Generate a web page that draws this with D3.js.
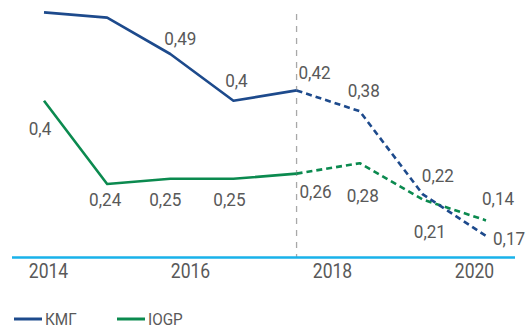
<!DOCTYPE html>
<html>
<head>
<meta charset="utf-8">
<script src="https://cdn.jsdelivr.net/npm/d3@7"></script>
<style>
  html, body { margin: 0; padding: 0; background: #fff; }
  svg { display: block; }
  text { font-family: Roboto, "Open Sans", sans-serif; fill: #595959; }
</style>
</head>
<body>
<svg id="chart" width="526" height="329"></svg>
<script>
// Periods along the line (the last three are projections)
const periods = ["2013", "2014", "2015", "2016", "2017", "2018", "2019", "2020"];
const kmgValues = [0.57, 0.56, 0.49, 0.40, 0.42, 0.38, 0.22, 0.14];
const iogpValues = [0.40, 0.24, 0.25, 0.25, 0.26, 0.28, 0.21, 0.17];
// Which points carry a value label
const kmgLabelled = [false, false, true, true, true, true, true, true];
const iogpLabelled = [true, true, true, true, true, true, true, true];
// Index where the actual figures end and the forecast begins
const forecastFrom = 4;
const axisYears = [2014, 2016, 2018, 2020];
const seriesNames = ["КМГ", "IOGP"];

// Label placement relative to each point: [dx, dy] (centre, baseline)
const kmgLabelOffsets = [[0, 0], [0, 0], [10, -9], [3, -14], [18, -11], [4, -14], [15, -12], [12, -31]];
const iogpLabelOffsets = [[-4, 34], [-2, 22], [-5, 27], [-4, 27], [19, 24], [3, 39], [7, 38], [23, 25]];

const colors = { kmg: "#1d4a8c", iogp: "#0b8a4f", axis: "#19b2ea", divider: "#a8a8a8" };

const svg = d3.select("#chart");

const x = d3.scalePoint().domain(periods).range([44, 486]);
const y = d3.scaleLinear().domain([0, 0.6]).range([308.8, -3.2]);
const yearScale = d3.scaleLinear().domain([2014, 2020]).range([48, 474]);

const axisY = 257.5;

// Forecast divider
svg.append("line")
  .attr("x1", x(periods[forecastFrom])).attr("x2", x(periods[forecastFrom]))
  .attr("y1", 14).attr("y2", axisY)
  .attr("stroke", colors.divider).attr("stroke-width", 1.3)
  .attr("stroke-dasharray", "6,6");

// Baseline
svg.append("line")
  .attr("x1", 12).attr("x2", 515)
  .attr("y1", axisY).attr("y2", axisY)
  .attr("stroke", colors.axis).attr("stroke-width", 2.5);

// Year labels
const axis = d3.axisBottom(yearScale).tickValues(axisYears).tickFormat(d3.format("d")).tickSize(0).tickPadding(0);
const axisG = svg.append("g").attr("transform", `translate(0,${axisY})`).call(axis);
axisG.select(".domain").remove();
axisG.selectAll(".tick text")
  .attr("dy", null).attr("y", 21).attr("x", 0)
  .attr("transform", "scale(0.9,1)")
  .style("font-size", "19.5px").style("fill", "#595959")
  .style("font-family", "Roboto, sans-serif");

const line = d3.line().x(d => x(d.p)).y(d => y(d.v));

function drawSeries(values, color, labelled, offsets) {
  const pts = values.map((v, i) => ({ p: periods[i], v, i }));
  svg.append("path")
    .datum(pts.slice(0, forecastFrom + 1))
    .attr("d", line).attr("fill", "none")
    .attr("stroke", color).attr("stroke-width", 2.6)
    .attr("stroke-linejoin", "round");
  svg.append("path")
    .datum(pts.slice(forecastFrom))
    .attr("d", line).attr("fill", "none")
    .attr("stroke", color).attr("stroke-width", 2.6)
    .attr("stroke-dasharray", "6,4")
    .attr("stroke-linejoin", "round");
  svg.append("g").selectAll("text")
    .data(pts.filter(d => labelled[d.i]))
    .join("text")
    .attr("transform", d => `translate(${x(d.p) + offsets[d.i][0]},${y(d.v) + offsets[d.i][1]}) scale(0.9,1)`)
    .attr("text-anchor", "middle")
    .style("font-size", "19px")
    .text(d => d3.format(".2~f")(d.v).replace(".", ","));
}

drawSeries(iogpValues, colors.iogp, iogpLabelled, iogpLabelOffsets);
drawSeries(kmgValues, colors.kmg, kmgLabelled, kmgLabelOffsets);

// Legend
const legend = svg.append("g").attr("transform", "translate(14,319)");
const legendItems = [
  { name: seriesNames[0], color: colors.kmg, x: 0 },
  { name: seriesNames[1], color: colors.iogp, x: 103 }
];
const li = legend.selectAll("g").data(legendItems).join("g")
  .attr("transform", d => `translate(${d.x},0)`);
li.append("line").attr("x1", 0).attr("x2", 28).attr("y1", 0).attr("y2", 0)
  .attr("stroke", d => d.color).attr("stroke-width", 3);
li.append("text")
  .attr("transform", "translate(31,5.5) scale(0.9,1)")
  .style("font-size", "17px")
  .text(d => d.name);
</script>
</body>
</html>
